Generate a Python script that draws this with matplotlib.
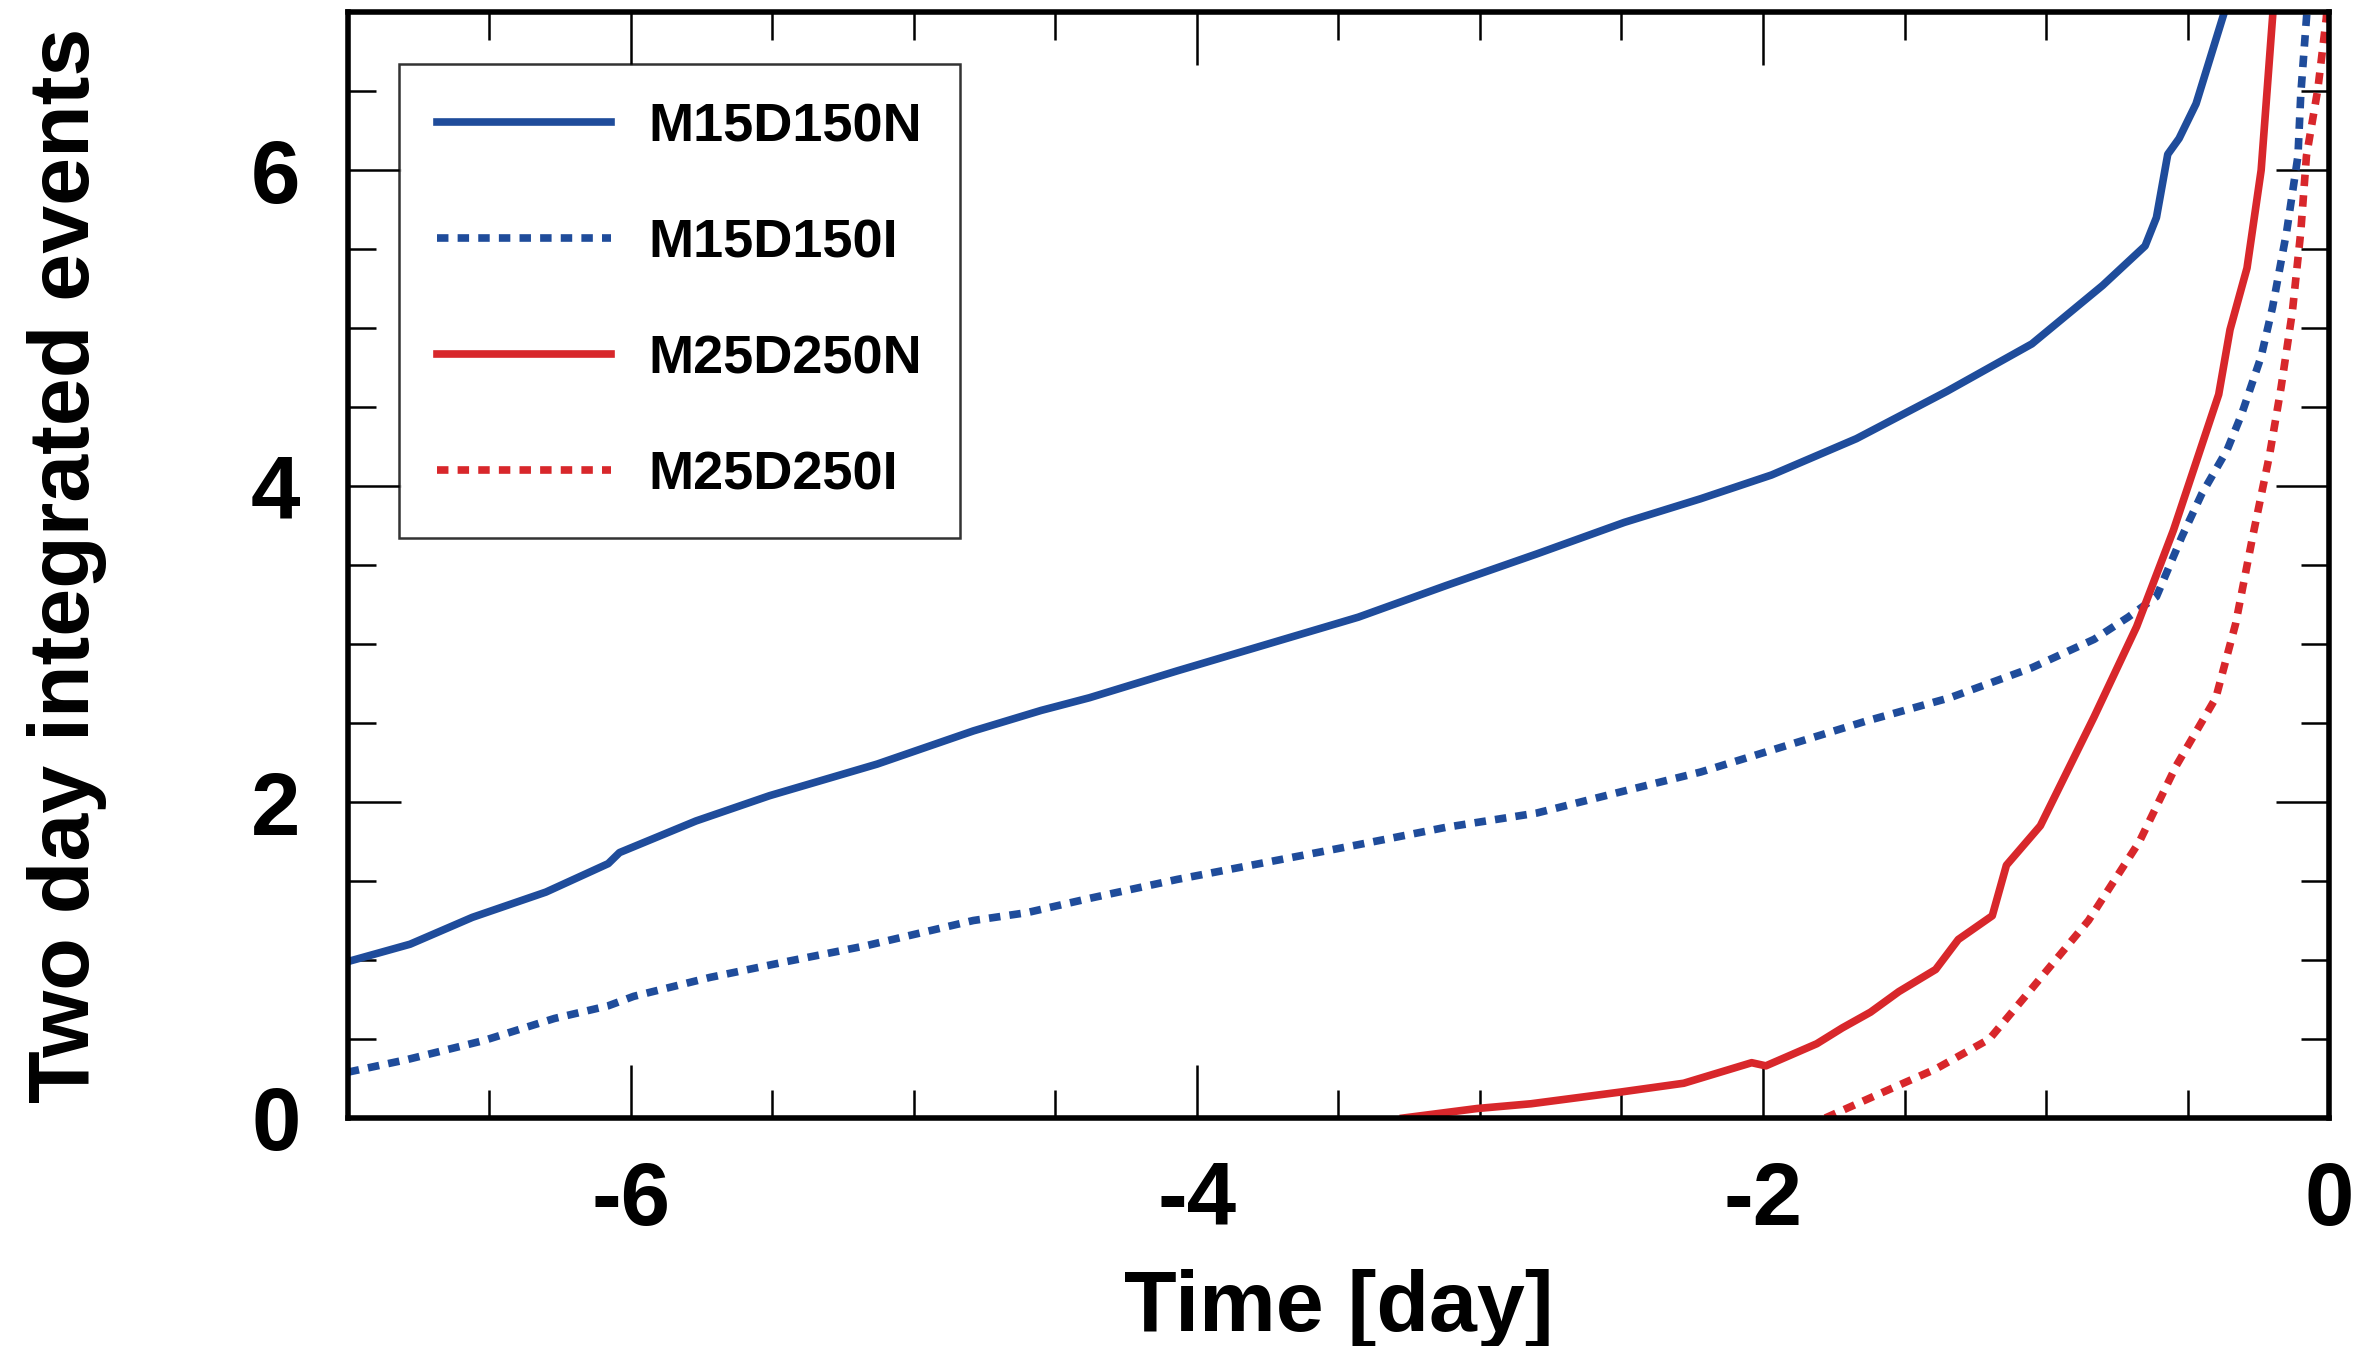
import matplotlib
matplotlib.use("Agg")
import matplotlib.pyplot as plt
from matplotlib.ticker import MultipleLocator

# ---- data ----
m15n_x = [-7.0, -6.78, -6.56, -6.30, -6.08, -6.04, -5.77, -5.51, -5.13, -4.79, -4.55, -4.38,
          -4.07, -3.75, -3.43, -3.12, -2.80, -2.49, -2.22, -1.97, -1.67, -1.35, -1.05, -0.80,
          -0.65, -0.61, -0.57, -0.53, -0.47, -0.37, -0.34]
m15n_y = [0.99, 1.10, 1.27, 1.43, 1.61, 1.68, 1.88, 2.04, 2.24, 2.45, 2.58, 2.66,
          2.83, 3.00, 3.17, 3.37, 3.57, 3.77, 3.92, 4.07, 4.30, 4.60, 4.90, 5.27,
          5.52, 5.70, 6.10, 6.20, 6.42, 7.00, 7.20]

m15i_x = [-7.0, -6.79, -6.52, -6.27, -6.08, -5.99, -5.72, -5.45, -5.17, -4.98, -4.79, -4.60,
          -4.38, -4.07, -3.75, -3.43, -3.12, -2.80, -2.49, -2.22, -1.93, -1.64, -1.34, -1.05,
          -0.83, -0.71, -0.61, -0.52, -0.45, -0.36, -0.31, -0.24, -0.20, -0.15, -0.11, -0.10,
          -0.08, -0.07]
m15i_y = [0.29, 0.37, 0.49, 0.63, 0.71, 0.77, 0.89, 0.99, 1.09, 1.17, 1.25, 1.30,
          1.39, 1.51, 1.62, 1.73, 1.84, 1.93, 2.07, 2.19, 2.35, 2.51, 2.66, 2.85,
          3.03, 3.17, 3.30, 3.68, 3.95, 4.23, 4.45, 4.82, 5.13, 5.61, 6.09, 6.48,
          6.96, 7.20]

m25n_x = [-3.27, -3.01, -2.82, -2.50, -2.28, -2.04, -1.99, -1.81, -1.72, -1.62, -1.52, -1.39,
          -1.31, -1.19, -1.14, -1.02, -0.83, -0.68, -0.55, -0.47, -0.39, -0.35, -0.29, -0.24,
          -0.20, -0.19]
m25n_y = [0.0, 0.06, 0.09, 0.165, 0.22, 0.35, 0.33, 0.47, 0.57, 0.67, 0.80, 0.94,
          1.13, 1.28, 1.60, 1.85, 2.54, 3.11, 3.72, 4.15, 4.58, 4.99, 5.38, 6.00,
          6.96, 7.20]

m25i_x = [-1.78, -1.58, -1.39, -1.20, -1.05, -0.85, -0.67, -0.54, -0.40, -0.33, -0.27, -0.21,
          -0.17, -0.13, -0.10, -0.08, -0.04, -0.01, 0.0]
m25i_y = [0.0, 0.16, 0.31, 0.50, 0.82, 1.25, 1.75, 2.23, 2.66, 3.13, 3.68, 4.20,
          4.62, 5.10, 5.61, 6.09, 6.51, 6.96, 7.20]

labels = ["M15D150N", "M15D150I", "M25D250N", "M25D250I"]
xlabel = "Time [day]"
ylabel = "Two day integrated events"

BLUE = "#1f4c9b"
RED = "#d8272b"

plt.rcParams["font.family"] = ["Liberation Sans", "DejaVu Sans"]
plt.rcParams["font.weight"] = "bold"
plt.rcParams["axes.unicode_minus"] = False

fig = plt.figure(figsize=(23.66, 13.46), dpi=100)
ax = fig.add_axes([0.147, 0.1694, 0.8374, 0.8216])

lw = 5.5
dots = (1.5, 1.2)
ax.plot(m15n_x, m15n_y, color=BLUE, lw=lw, label=labels[0])
ax.plot(m15i_x, m15i_y, color=BLUE, lw=lw, linestyle=(0, dots), dash_capstyle="butt", label=labels[1])
ax.plot(m25n_x, m25n_y, color=RED, lw=lw, label=labels[2])
ax.plot(m25i_x, m25i_y, color=RED, lw=lw, linestyle=(0, dots), dash_capstyle="butt", label=labels[3])

ax.set_xlim(-7, 0)
ax.set_ylim(0, 7)
ax.xaxis.set_major_locator(MultipleLocator(2))
ax.xaxis.set_minor_locator(MultipleLocator(0.5))
ax.yaxis.set_major_locator(MultipleLocator(2))
ax.yaxis.set_minor_locator(MultipleLocator(0.5))

ax.tick_params(which="both", direction="in", top=True, right=True, width=1.8, color="black")
ax.tick_params(which="major", length=38)
ax.tick_params(which="minor", length=20)
ax.tick_params(axis="x", which="major", pad=30, labelsize=64)
ax.tick_params(axis="y", which="major", pad=34, labelsize=64)
for lab in ax.get_xticklabels() + ax.get_yticklabels():
    lab.set_fontweight("bold")

for s in ax.spines.values():
    s.set_linewidth(4)

ax.set_xlabel(xlabel, fontsize=62, fontweight="bold", labelpad=18)
ax.set_ylabel(ylabel, fontsize=62, fontweight="bold", labelpad=104)

leg = ax.legend(loc="upper left", bbox_to_anchor=(0.026, 0.953), borderaxespad=0,
                prop={"size": 39, "weight": "bold"}, frameon=True, fancybox=False,
                edgecolor="black", handlelength=3.2, handletextpad=0.7,
                labelspacing=1.22, borderpad=0.7)
leg.get_frame().set_linewidth(1.8)

fig.savefig("out.png", dpi=100, facecolor="white")
